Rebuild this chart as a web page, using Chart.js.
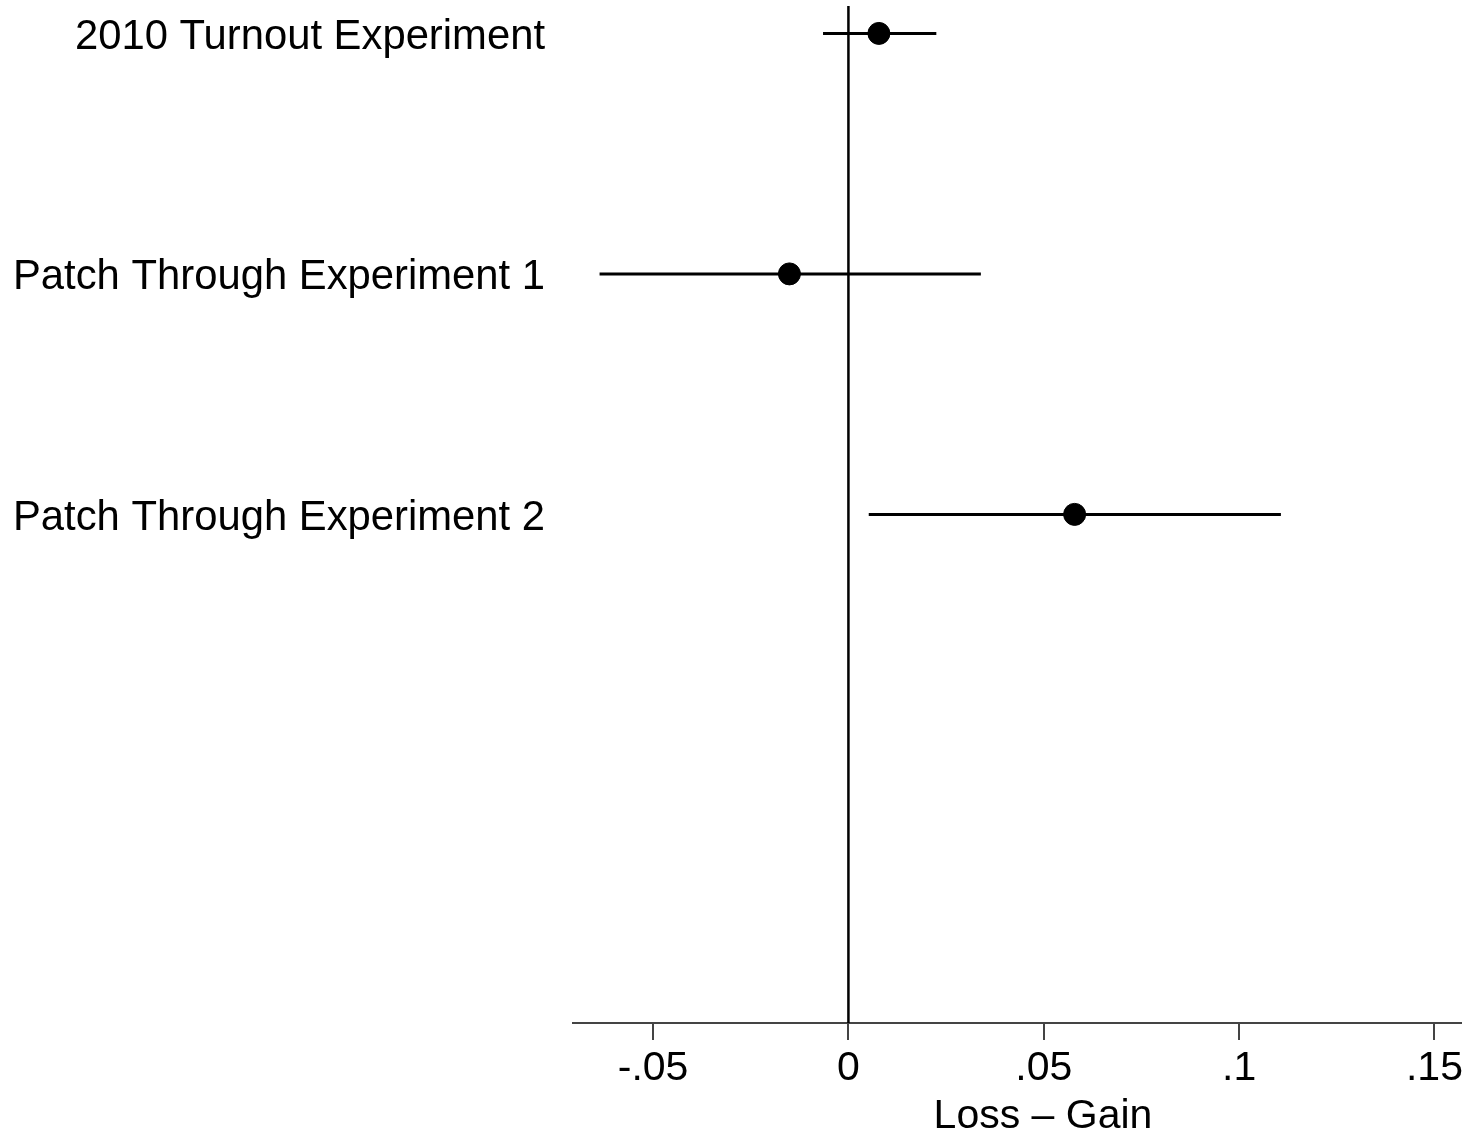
<!DOCTYPE html>
<html>
<head>
<meta charset="utf-8">
<title>Loss - Gain</title>
<script src="https://cdn.jsdelivr.net/npm/chart.js@4.4.0/dist/chart.umd.min.js"></script>
<style>
  body { margin: 0; background: #fff; }
  #wrap { width: 1475px; height: 1138px; }
</style>
</head>
<body>
<div id="wrap"><canvas id="myChart" width="1475" height="1138"></canvas></div>
<script>
// Differenz Loss - Gain mit Konfidenzintervall
const experiments = ['2010 Turnout Experiment', 'Patch Through Experiment 1', 'Patch Through Experiment 2'];
const estimates = [0.0078, -0.0151, 0.0579];
const ciLower = [-0.0065, -0.0637, 0.0052];
const ciUpper = [0.0225, 0.0339, 0.1107];
const xTicks = [-0.05, 0, 0.05, 0.1, 0.15];
const xTickLabels = ['-.05', '0', '.05', '.1', '.15'];
const xTitle = 'Loss \u2013 Gain';

const fontFamily = '"Liberation Sans", Arial, Helvetica, sans-serif';
const yMin = 0.886, yMax = 5.115;

// eine Linie pro Intervall
const ciSets = experiments.map((name, i) => ({
  label: name + ' CI',
  data: [{ x: ciLower[i], y: i + 1 }, { x: ciUpper[i], y: i + 1 }],
  showLine: true,
  borderColor: '#000',
  borderWidth: 3,
  pointRadius: 0,
  order: 2
}));

const zeroLine = {
  label: 'zero',
  data: [{ x: 0, y: yMin }, { x: 0, y: yMax }],
  showLine: true,
  borderColor: '#000',
  borderWidth: 2.5,
  pointRadius: 0,
  order: 3
};

const points = {
  label: 'Estimate',
  data: estimates.map((v, i) => ({ x: v, y: i + 1 })),
  backgroundColor: '#000',
  borderColor: '#000',
  pointRadius: 11,
  order: 1
};

// Achsentitel etwas rechts von der Mitte, wie im Original
const titlePlugin = {
  id: 'xTitle',
  afterDraw(chart) {
    const c = chart.ctx;
    c.save();
    c.font = '41px ' + fontFamily;
    c.fillStyle = '#000';
    c.textAlign = 'center';
    c.textBaseline = 'alphabetic';
    c.fillText(xTitle, 1043, 1128);
    c.restore();
  }
};

var ctx = document.getElementById('myChart').getContext('2d');

var myChart = new Chart(ctx, {
  type: 'scatter',
  data: {
    datasets: [points, ...ciSets, zeroLine]
  },
  options: {
    responsive: false,
    animation: false,
    layout: { autoPadding: false, padding: { top: 6, right: 14, left: 0, bottom: 0 } },
    plugins: {
      legend: { display: false },
      tooltip: { enabled: false }
    },
    scales: {
      x: {
        type: 'linear',
        min: -0.0705,
        max: 0.1568,
        afterBuildTicks: (scale) => { scale.ticks = xTicks.map(v => ({ value: v })); },
        afterFit: (scale) => { scale.height = 115; },
        border: { display: true, color: '#444', width: 2 },
        grid: { drawOnChartArea: false, drawTicks: true, tickLength: 17, color: '#444', lineWidth: 2 },
        ticks: {
          color: '#000',
          padding: 4,
          maxRotation: 0,
          font: { family: fontFamily, size: 41 },
          callback: (v) => xTickLabels[xTicks.indexOf(v)]
        }
      },
      y: {
        type: 'linear',
        reverse: true,
        min: yMin,
        max: yMax,
        afterBuildTicks: (scale) => { scale.ticks = experiments.map((e, i) => ({ value: i + 1 })); },
        afterFit: (scale) => {
          scale.width = 573;
          // Labels liegen nicht am Rand, also kein Extra-Abstand oben/unten
          scale.paddingTop = 0;
          scale.paddingBottom = 0;
        },
        border: { display: false },
        grid: { display: false, drawTicks: false },
        ticks: {
          color: '#000',
          padding: 28,
          labelOffset: 4,
          font: { family: fontFamily, size: 41.8 },
          callback: (v) => experiments[v - 1]
        }
      }
    }
  },
  plugins: [titlePlugin]
});
</script>
</body>
</html>
